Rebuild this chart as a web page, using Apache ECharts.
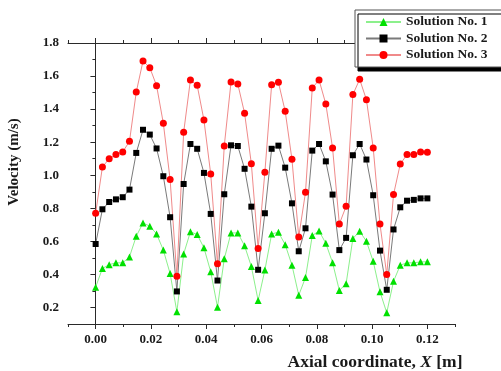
<!DOCTYPE html>
<html>
<head>
<meta charset="utf-8">
<script src="https://cdn.jsdelivr.net/npm/echarts@6/dist/echarts.min.js"></script>
<style>
  html, body { margin: 0; padding: 0; background: #fff; }
  #chart { width: 501px; height: 371px; }
</style>
</head>
<body>
<div id="chart"></div>
<script>
// Axial positions of the sampled stations [m]
const axialX = [
  0, 0.00245, 0.0049, 0.00735, 0.0098, 0.01224, 0.01469, 0.01714, 0.01959, 0.02204,
  0.02449, 0.02694, 0.02939, 0.03184, 0.03429, 0.03673, 0.03918, 0.04163, 0.04408, 0.04653,
  0.04898, 0.05143, 0.05388, 0.05633, 0.05878, 0.06122, 0.06367, 0.06612, 0.06857, 0.07102,
  0.07347, 0.07592, 0.07837, 0.08082, 0.08327, 0.08571, 0.08816, 0.09061, 0.09306, 0.09551,
  0.09796, 0.10041, 0.10286, 0.10531, 0.10776, 0.1102, 0.11265, 0.1151, 0.11755, 0.12
];

// Velocity [m/s] for each solution
const solution1 = [
  0.323, 0.436, 0.459, 0.47, 0.47, 0.506, 0.631, 0.711, 0.692, 0.645,
  0.547, 0.405, 0.174, 0.524, 0.658, 0.641, 0.561, 0.416, 0.202, 0.494,
  0.651, 0.651, 0.573, 0.448, 0.242, 0.426, 0.645, 0.655, 0.58, 0.456,
  0.274, 0.381, 0.635, 0.663, 0.588, 0.471, 0.303, 0.344, 0.617, 0.661,
  0.6, 0.479, 0.295, 0.168, 0.358, 0.456, 0.47, 0.47, 0.476, 0.476
];
const solution2 = [
  0.584, 0.794, 0.838, 0.854, 0.867, 0.913, 1.135, 1.275, 1.246, 1.162,
  0.994, 0.746, 0.297, 0.947, 1.189, 1.16, 1.014, 0.766, 0.363, 0.885,
  1.181, 1.177, 1.039, 0.81, 0.428, 0.77, 1.16, 1.179, 1.046, 0.83,
  0.54, 0.679, 1.149, 1.189, 1.084, 0.883, 0.547, 0.621, 1.121, 1.189,
  1.095, 0.879, 0.544, 0.307, 0.672, 0.806, 0.846, 0.851, 0.86, 0.86
];
const solution3 = [
  0.77, 1.05, 1.1, 1.126, 1.141, 1.205, 1.503, 1.691, 1.651, 1.542,
  1.314, 0.974, 0.389, 1.26, 1.576, 1.544, 1.334, 1.007, 0.465, 1.177,
  1.564, 1.552, 1.375, 1.07, 0.557, 1.018, 1.548, 1.562, 1.387, 1.096,
  0.627, 0.897, 1.528, 1.576, 1.431, 1.165, 0.705, 0.812, 1.488, 1.58,
  1.457, 1.165, 0.705, 0.399, 0.883, 1.068, 1.125, 1.125, 1.141, 1.139
];

const seriesNames = ['Solution No. 1', 'Solution No. 2', 'Solution No. 3'];

// Axis ticks
const xMajorTicks = [0, 0.02, 0.04, 0.06, 0.08, 0.1, 0.12];
const xMinorTicks = [-0.01, 0.01, 0.03, 0.05, 0.07, 0.09, 0.11, 0.13];
const yMajorTicks = [0.2, 0.4, 0.6, 0.8, 1.0, 1.2, 1.4, 1.6, 1.8];
const yMinorTicks = [0.1, 0.3, 0.5, 0.7, 0.9, 1.1, 1.3, 1.5, 1.7];

const X_MIN = -0.01, X_MAX = 0.13, Y_MIN = 0.1, Y_MAX = 1.8;

const serif = '"Liberation Serif", "Times New Roman", serif';
const ink = '#1a1a1a';
const frameLine = { color: '#2a2a2a', width: 1 };

function pairs(ys) {
  return ys.map((v, i) => [axialX[i], v]);
}

function xAxisDef(position, ticks, len, inside, withLine, withLabels) {
  return {
    type: 'value', position: position, min: X_MIN, max: X_MAX,
    axisLine: { show: withLine, lineStyle: frameLine },
    axisTick: { show: true, inside: inside, length: len, customValues: ticks, lineStyle: frameLine },
    axisLabel: withLabels ? {
      show: true, customValues: xMajorTicks, margin: 9,
      fontFamily: serif, fontWeight: 'bold', fontSize: 13, color: ink,
      formatter: v => v.toFixed(2)
    } : { show: false },
    splitLine: { show: false }
  };
}

function yAxisDef(position, ticks, len, inside, withLine, withLabels) {
  return {
    type: 'value', position: position, min: Y_MIN, max: Y_MAX,
    axisLine: { show: withLine, lineStyle: frameLine },
    axisTick: { show: true, inside: inside, length: len, customValues: ticks, lineStyle: frameLine },
    axisLabel: withLabels ? {
      show: true, customValues: yMajorTicks, margin: 9,
      fontFamily: serif, fontWeight: 'bold', fontSize: 13, color: ink,
      formatter: v => v.toFixed(1)
    } : { show: false },
    splitLine: { show: false }
  };
}

function lineSeries(name, ys, symbol, size, markColor, lineColor) {
  return {
    name: name, type: 'line', data: pairs(ys),
    xAxisIndex: 0, yAxisIndex: 0,
    symbol: symbol, symbolSize: size, showAllSymbol: true,
    lineStyle: { color: lineColor, width: 1 },
    itemStyle: { color: markColor, borderWidth: 0 },
    emphasis: { disabled: true },
    animation: false
  };
}

const chart = echarts.init(document.getElementById('chart'), null, { renderer: 'canvas' });
chart.setOption({
  animation: false,
  backgroundColor: '#fff',
  grid: { left: 68, right: 46, top: 43, bottom: 47, containLabel: false },
  xAxis: [
    xAxisDef('bottom', xMajorTicks, 5, false, true, true),
    xAxisDef('bottom', xMinorTicks, 3, false, false, false),
    xAxisDef('top', xMajorTicks, 5, false, true, false),
    xAxisDef('top', xMinorTicks, 3, false, false, false)
  ],
  yAxis: [
    yAxisDef('left', yMajorTicks, 5, false, true, true),
    yAxisDef('left', yMinorTicks, 3, false, false, false),
    yAxisDef('right', yMajorTicks, 5, true, true, false),
    yAxisDef('right', yMinorTicks, 3, true, false, false)
  ],
  legend: {
    orient: 'vertical', left: 355, top: 10,
    padding: [4, 24, 4, 10], itemGap: 0.5,
    itemWidth: 35, itemHeight: 10,
    backgroundColor: '#fff', borderColor: '#555', borderWidth: 1,
    shadowColor: '#000', shadowBlur: 0, shadowOffsetX: 3, shadowOffsetY: 4,
    textStyle: { fontFamily: serif, fontWeight: 'bold', fontSize: 13.5, lineHeight: 16, color: ink },
    data: seriesNames,
    z: 10
  },
  series: [
    lineSeries(seriesNames[0], solution1, 'triangle', 7, '#00e000', '#8cf08c'),
    lineSeries(seriesNames[1], solution2, 'rect', 6, '#000000', '#7a7a7a'),
    lineSeries(seriesNames[2], solution3, 'circle', 7, '#ff0000', '#f08a8a')
  ],
  graphic: [
    {
      type: 'text', x: 14, y: 162, rotation: Math.PI / 2,
      style: { text: 'Velocity (m/s)', font: 'bold 15px ' + serif, fill: ink, align: 'center', verticalAlign: 'middle' }
    },
    {
      type: 'text', x: 375, y: 362,
      style: {
        text: '{a|Axial coordinate, }{i|X}{a| [m]}',
        align: 'center', verticalAlign: 'middle', fill: ink,
        rich: {
          a: { font: 'bold 17.5px ' + serif, fill: ink },
          i: { font: 'italic bold 17.5px ' + serif, fill: ink }
        }
      }
    }
  ]
});
</script>
</body>
</html>
